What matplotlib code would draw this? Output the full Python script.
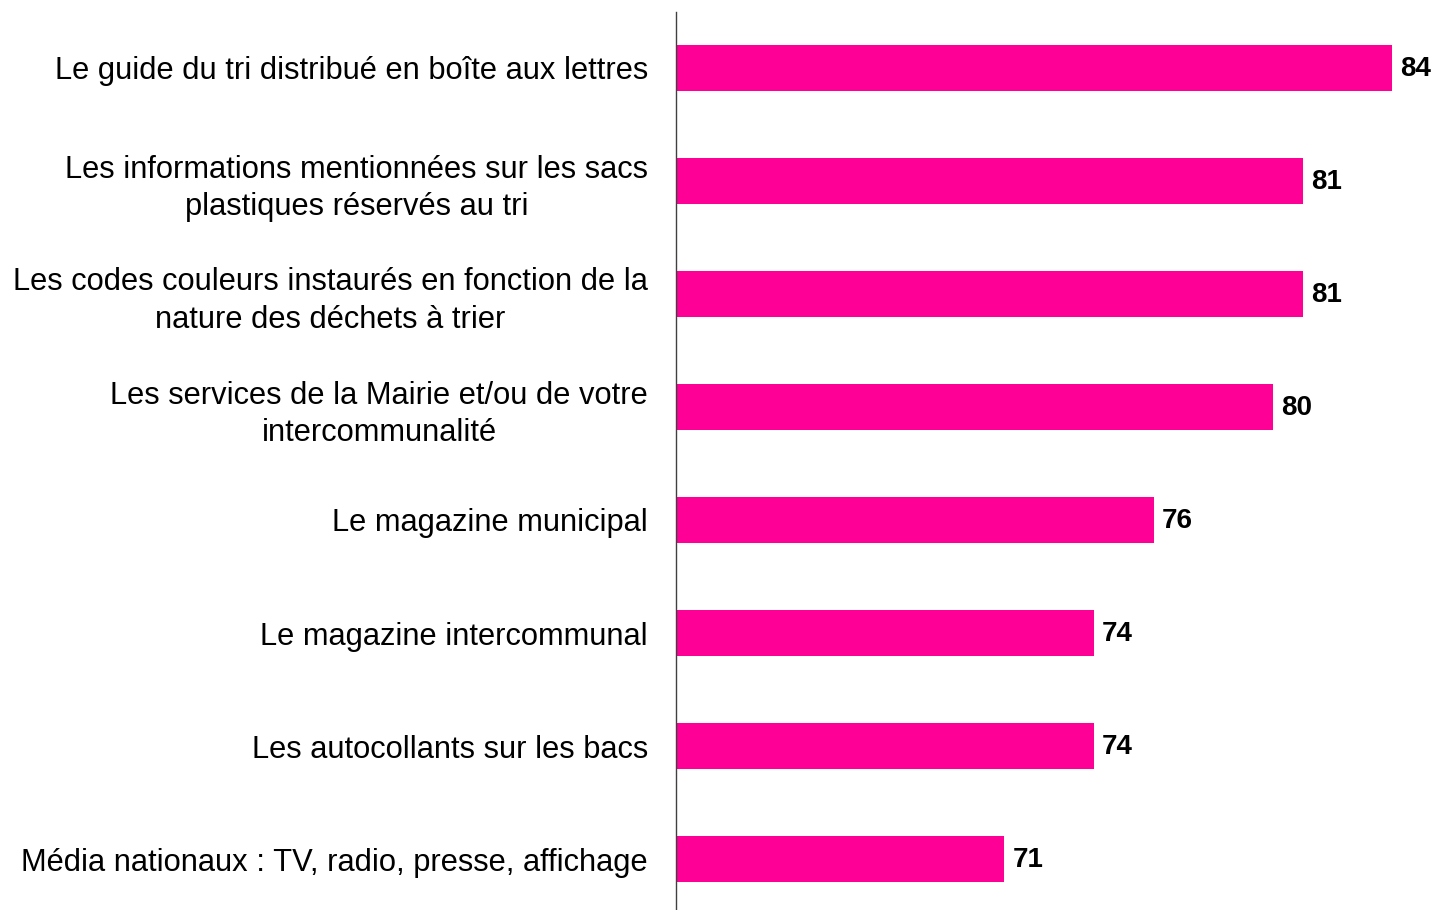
import matplotlib
matplotlib.use("Agg")
import matplotlib.pyplot as plt

categories = [
    "Le guide du tri distribué en boîte aux lettres",
    "Les informations mentionnées sur les sacs\nplastiques réservés au tri",
    "Les codes couleurs instaurés en fonction de la\nnature des déchets à trier",
    "Les services de la Mairie et/ou de votre\nintercommunalité",
    "Le magazine municipal",
    "Le magazine intercommunal",
    "Les autocollants sur les bacs",
    "Média nationaux : TV, radio, presse, affichage",
]
values = [84, 81, 81, 80, 76, 74, 74, 71]

plt.rcParams['font.family'] = ['Liberation Sans', 'DejaVu Sans']

W, H = 1433, 910
fig = plt.figure(figsize=(W / 100, H / 100), dpi=100)
left = 676 / W
top_px, bot_px = 11.5, 915.5
ax = fig.add_axes([left, 1 - bot_px / H, 1 - left, (bot_px - top_px) / H])

y = list(range(len(categories)))
ax.barh(y, values, height=0.41, color="#FF0096", left=0)
ax.set_xlim(60, 60 + (W - 676) / 29.85)
ax.set_ylim(len(categories) - 0.5, -0.5)

for yi, v in zip(y, values):
    ax.annotate(str(v), (v, yi), xytext=(8, -1), textcoords="offset pixels",
                ha="left", va="center", fontsize=20, fontweight="bold", color="black")

ax.set_yticks(y)
ax.set_yticklabels(categories, fontsize=22.2, ha="right", linespacing=1.32)
ax.tick_params(axis="y", length=0, pad=28 * 72 / 100)
ax.set_xticks([])
for lbl in ax.get_yticklabels():
    lbl.set_multialignment("center")

for s in ["top", "right", "bottom"]:
    ax.spines[s].set_visible(False)
ax.spines["left"].set_color("#404040")
ax.spines["left"].set_linewidth(1.0)

fig.savefig("out.png", dpi=100)
